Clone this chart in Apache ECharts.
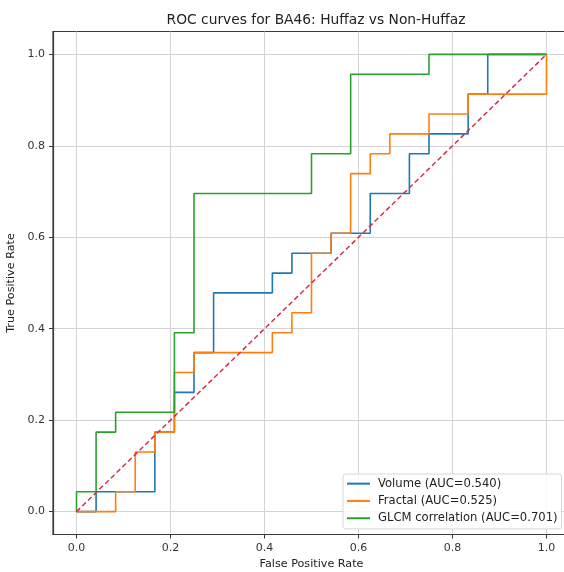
<!DOCTYPE html>
<html><head><meta charset="utf-8">
<script src="https://cdn.jsdelivr.net/npm/echarts@6/dist/echarts.min.js"></script>
<style>html,body{margin:0;padding:0;background:#fff}#c{width:564px;height:572px}</style>
</head><body><div id="c"></div><script>
const titleText = 'ROC curves for BA46: Huffaz vs Non-Huffaz';
const xName = 'False Positive Rate';
const yName = 'True Positive Rate';
const seriesNames = ['Volume (AUC=0.540)', 'Fractal (AUC=0.525)', 'GLCM correlation (AUC=0.701)'];

const volumeFpr = [0, 0.0417, 0.0417, 0.1667, 0.1667, 0.2083, 0.2083, 0.25, 0.25, 0.2917, 0.2917, 0.4167, 0.4167, 0.4583, 0.4583, 0.5417, 0.5417, 0.625, 0.625, 0.7083, 0.7083, 0.75, 0.75, 0.8333, 0.8333, 0.875, 0.875, 1];
const volumeTpr = [0, 0, 0.0435, 0.0435, 0.1739, 0.1739, 0.2609, 0.2609, 0.3478, 0.3478, 0.4783, 0.4783, 0.5217, 0.5217, 0.5652, 0.5652, 0.6087, 0.6087, 0.6957, 0.6957, 0.7826, 0.7826, 0.8261, 0.8261, 0.9130, 0.9130, 1, 1];

const fractalFpr = [0, 0.0833, 0.0833, 0.125, 0.125, 0.1667, 0.1667, 0.2083, 0.2083, 0.25, 0.25, 0.4167, 0.4167, 0.4583, 0.4583, 0.5, 0.5, 0.5417, 0.5417, 0.5833, 0.5833, 0.625, 0.625, 0.6667, 0.6667, 0.75, 0.75, 0.8333, 0.8333, 1, 1];
const fractalTpr = [0, 0, 0.0435, 0.0435, 0.1304, 0.1304, 0.1739, 0.1739, 0.3043, 0.3043, 0.3478, 0.3478, 0.3913, 0.3913, 0.4348, 0.4348, 0.5652, 0.5652, 0.6087, 0.6087, 0.7391, 0.7391, 0.7826, 0.7826, 0.8261, 0.8261, 0.8696, 0.8696, 0.9130, 0.9130, 1];

const glcmFpr = [0, 0, 0.0417, 0.0417, 0.0833, 0.0833, 0.2083, 0.2083, 0.25, 0.25, 0.5, 0.5, 0.5833, 0.5833, 0.75, 0.75, 1];
const glcmTpr = [0, 0.0435, 0.0435, 0.1739, 0.1739, 0.2174, 0.2174, 0.3913, 0.3913, 0.6957, 0.6957, 0.7826, 0.7826, 0.9565, 0.9565, 1, 1];

const chanceX = [0, 1];
const chanceY = [0, 1];

const xTicks = [0, 0.2, 0.4, 0.6, 0.8, 1.0];
const yTicks = [0, 0.2, 0.4, 0.6, 0.8, 1.0];
const axisMin = -0.05, axisMax = 1.05;

const FONT = 'DejaVu Sans';
const colors = ['#1f77b4', '#ff7f0e', '#2ca02c'];

function pairs(xs, ys) { return xs.map((x, i) => [x, ys[i]]); }

const chart = echarts.init(document.getElementById('c'), null, {renderer: 'canvas'});
const lineSeries = (name, xs, ys, color) => ({
  name, type: 'line', data: pairs(xs, ys), symbol: 'none', showSymbol: false,
  lineStyle: {color, width: 1.6}, itemStyle: {color}, z: 3, silent: true
});
chart.setOption({
  animation: false,
  backgroundColor: '#fff',
  title: {
    text: titleText, left: 311, top: 8, textAlign: 'center',
    textStyle: {fontFamily: FONT, fontSize: 13.8, fontWeight: 'normal', color: '#222'}
  },
  grid: {left: 53, top: 31.5, width: 517, height: 503, show: true, borderColor: '#3a3a3a', borderWidth: 1.2,
         backgroundColor: 'transparent', containLabel: false, outerBoundsMode: 'none'},
  xAxis: {
    type: 'value', min: axisMin, max: axisMax,
    name: xName, nameLocation: 'middle', nameGap: 23,
    nameTextStyle: {fontFamily: FONT, fontSize: 11.2, color: '#222'},
    axisLine: {show: true, onZero: false, lineStyle: {color: '#3a3a3a', width: 1.2}},
    axisTick: {show: true, customValues: xTicks, length: 4, inside: false, lineStyle: {color: '#3a3a3a', width: 1}},
    axisLabel: {customValues: xTicks, margin: 8, fontFamily: FONT, fontSize: 11, color: '#333', formatter: v => v.toFixed(1)},
    splitLine: {show: true, lineStyle: {color: '#d4d4d4', width: 1}}
  },
  yAxis: {
    type: 'value', min: axisMin, max: axisMax,
    name: yName, nameLocation: 'middle', nameGap: 31,
    nameTextStyle: {fontFamily: FONT, fontSize: 11.2, color: '#222'},
    axisLine: {show: true, onZero: false, lineStyle: {color: '#3a3a3a', width: 1.2}},
    axisTick: {show: true, customValues: yTicks, length: 4, inside: false, lineStyle: {color: '#3a3a3a', width: 1}},
    axisLabel: {customValues: yTicks, margin: 8, fontFamily: FONT, fontSize: 11, color: '#333', formatter: v => v.toFixed(1)},
    splitLine: {show: true, lineStyle: {color: '#d4d4d4', width: 1}}
  },
  legend: {
    data: seriesNames, orient: 'vertical', left: 343, top: 474,
    icon: 'rect', itemWidth: 23, itemHeight: 2, itemGap: 4,
    padding: [3, 4, 4, 4],
    backgroundColor: 'rgba(255,255,255,0.85)', borderColor: '#d6d6d6', borderWidth: 1, borderRadius: 3,
    textStyle: {fontFamily: FONT, fontSize: 11.6, color: '#222', lineHeight: 13.3, padding: [0, 0, 0, 3]}
  },
  series: [
    lineSeries(seriesNames[0], volumeFpr, volumeTpr, colors[0]),
    lineSeries(seriesNames[1], fractalFpr, fractalTpr, colors[1]),
    lineSeries(seriesNames[2], glcmFpr, glcmTpr, colors[2]),
    {name: 'chance', type: 'line', data: pairs(chanceX, chanceY), symbol: 'none', silent: true, z: 4,
     lineStyle: {color: '#d62f45', width: 1.5, type: [5, 3]}}
  ]
});
</script></body></html>
